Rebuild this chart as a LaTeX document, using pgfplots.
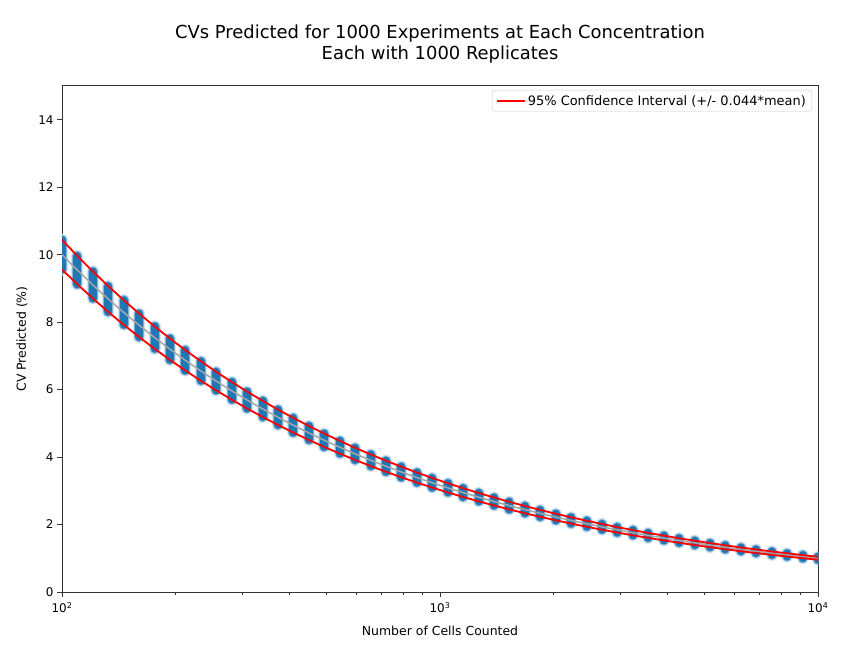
\documentclass[border=0pt]{standalone}
\usepackage{fontspec}
\setmainfont{DejaVu Sans}
\usepackage{pgfplots}
\usepackage{pgfplotstable}
\pgfplotsset{compat=1.18}

\definecolor{mplblue}{HTML}{1F77B4}
\definecolor{mplred}{HTML}{FF0000}

% x = cells counted, m = mean CV (%), e = 0.044*mean, lo/hi = band
\pgfplotstableread{
x        m        e        lo       hi
100      10.00000 0.44000  9.56000  10.44000
109.854  9.54095  0.41980  9.12115  9.96075
120.679  9.10298  0.40053  8.70245  9.50351
132.571  8.68511  0.38215  8.30296  9.06726
145.635  8.28643  0.36460  7.92183  8.65103
159.986  7.90604  0.34787  7.55817  8.25391
175.751  7.54312  0.33190  7.21122  7.87502
193.070  7.19686  0.31666  6.88020  7.51352
212.095  6.86649  0.30213  6.56436  7.16862
232.995  6.55129  0.28826  6.26303  6.83955
255.955  6.25055  0.27502  5.97553  6.52557
281.177  5.96362  0.26240  5.70122  6.22602
308.884  5.68987  0.25035  5.43952  5.94022
339.322  5.42868  0.23886  5.18982  5.66754
372.759  5.17947  0.22790  4.95157  5.40737
409.492  4.94171  0.21744  4.72428  5.15915
449.843  4.71487  0.20745  4.50742  4.92232
494.171  4.49843  0.19793  4.30050  4.69636
542.868  4.29193  0.18885  4.10309  4.48078
596.362  4.09492  0.18018  3.91474  4.27510
655.129  3.90694  0.17191  3.73504  4.07885
719.686  3.72759  0.16401  3.56358  3.89160
790.604  3.55648  0.15649  3.40000  3.71297
868.511  3.39322  0.14930  3.24392  3.54252
954.095  3.23746  0.14245  3.09501  3.37991
1048.11  3.08884  0.13591  2.95293  3.22475
1151.40  2.94705  0.12967  2.81738  3.07672
1264.86  2.81177  0.12372  2.68805  2.93549
1389.50  2.68270  0.11804  2.56466  2.80074
1526.42  2.55955  0.11262  2.44693  2.67217
1676.83  2.44205  0.10745  2.33460  2.54950
1842.07  2.32995  0.10252  2.22743  2.43247
2023.59  2.22300  0.09781  2.12519  2.32081
2223.00  2.12095  0.09332  2.02763  2.21427
2442.05  2.02359  0.08904  1.93455  2.11263
2682.70  1.93070  0.08495  1.84575  2.01565
2947.05  1.84207  0.08105  1.76102  1.92312
3237.46  1.75751  0.07733  1.68018  1.83484
3556.48  1.67683  0.07378  1.60305  1.75061
3906.94  1.59986  0.07039  1.52947  1.67025
4291.93  1.52642  0.06716  1.45926  1.59358
4714.87  1.45635  0.06408  1.39227  1.52043
5179.47  1.38950  0.06114  1.32836  1.45064
5689.87  1.32571  0.05833  1.26738  1.38404
6250.55  1.26486  0.05565  1.20921  1.32051
6866.49  1.20679  0.05310  1.15369  1.25989
7543.12  1.15140  0.05066  1.10074  1.20206
8286.43  1.09854  0.04834  1.05020  1.14688
9102.98  1.04811  0.04612  1.00199  1.09423
10000    1.00000  0.04400  0.95600  1.04400
}\cvdata

\begin{document}
\begin{tikzpicture}
\begin{axis}[
    name=ax,
    scale only axis,
    width=756bp, height=506bp,
    xmode=log,
    xmin=100, xmax=10000,
    ymin=0, ymax=15,
    xtick={100,1000,10000},
    xticklabels={10\textsuperscript{2},10\textsuperscript{3},10\textsuperscript{4}},
    ytick={0,2,...,14},
    xtick pos=bottom, ytick pos=left,
    tick align=outside,
    major tick length=5bp,
    minor tick length=3bp,
    tick style={black!80, line width=0.8bp},
    axis line style={black!80, line width=1bp},
    /pgf/number format/assume math mode=true,
    ticklabel style={font=\fontsize{12}{14}\selectfont},
    xticklabel style={yshift=-2bp},
    xlabel={Number of Cells Counted},
    ylabel={CV Predicted (\%)},
    label style={font=\fontsize{12.5}{15}\selectfont},
    xlabel style={yshift=-6bp},
    ylabel style={yshift=4bp},
    title={CVs Predicted for 1000 Experiments at Each Concentration\\Each with 1000 Replicates},
    title style={align=center, font=\fontsize{18}{21}\selectfont, at={(0.5,1)}, anchor=south, yshift=13bp},
    legend style={at={(1,1)}, anchor=north east, xshift=-6bp, yshift=-4bp,
        draw=black!20, rounded corners=3bp, fill=white, fill opacity=0.8, text opacity=1,
        font=\fontsize{13}{15}\selectfont, inner xsep=4bp, inner ysep=3bp},
    legend cell align=left,
    legend image code/.code={\draw[#1] (0bp,0bp) -- (28bp,0bp);},
]
% scatter of the experiments: light halo, then the dense core
\addplot[draw=none, forget plot,
    error bars/.cd, y dir=both, y explicit, error mark=none,
    error bar style={draw=mplblue!20, solid, line width=12bp, line cap=round}]
    table[x=x, y=m, y error=e] {\cvdata};
\addplot[draw=none, forget plot,
    error bars/.cd, y dir=both, y explicit, error mark=none,
    error bar style={draw=mplblue!55, solid, line width=10bp, line cap=round}]
    table[x=x, y=m, y error=e] {\cvdata};
\addplot[draw=none, forget plot,
    error bars/.cd, y dir=both, y explicit, error mark=none,
    error bar style={draw=mplblue, solid, line width=8bp, line cap=round}]
    table[x=x, y=m, y error=e] {\cvdata};
% mean
\addplot[black!35, line width=1.5bp, forget plot] table[x=x, y=m] {\cvdata};
% confidence band
\addplot[mplred, line width=1.8bp] table[x=x, y=hi] {\cvdata};
\addlegendentry{95\% Confidence Interval (+/- 0.044*mean)}
\addplot[mplred, line width=1.8bp, forget plot] table[x=x, y=lo] {\cvdata};
\end{axis}
\pgfresetboundingbox
\path[use as bounding box] ([shift={(-62bp,-68bp)}]ax.south west) rectangle ([shift={(32bp,86bp)}]ax.north east);
\end{tikzpicture}
\end{document}
